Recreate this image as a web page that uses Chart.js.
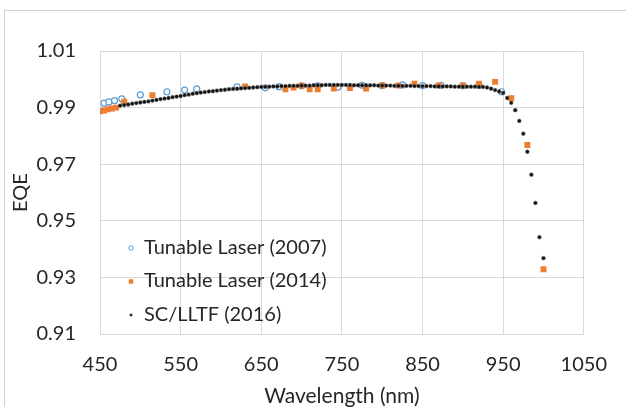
<!DOCTYPE html>
<html>
<head>
<meta charset="utf-8">
<script src="https://cdn.jsdelivr.net/npm/chart.js@4.4.0/dist/chart.umd.min.js"></script>
<style>
  html, body { margin: 0; padding: 0; background: #fff; }
  #wrap { width: 626px; height: 407px; }
</style>
</head>
<body>
<div id="wrap"><canvas id="c" width="626" height="407"></canvas></div>
<script>
// ---- Data ----
const seriesLabels = ['Tunable Laser (2007)', 'Tunable Laser (2014)', 'SC/LLTF (2016)'];

const laser2007X = [455, 461, 468, 477, 500, 533, 555, 570, 620, 655, 672, 700, 720, 745, 775, 800, 825, 850, 873, 900, 920, 948];
const laser2007Y = [0.9916, 0.9920, 0.9925, 0.9931, 0.9945, 0.9956, 0.9962, 0.9966, 0.9973, 0.9970, 0.9974, 0.9977, 0.9977, 0.9972, 0.9979, 0.9978, 0.9980, 0.9978, 0.9979, 0.9977, 0.9979, 0.9956];

const laser2014X = [450, 455, 460, 465, 470, 480, 515, 630, 680, 690, 700, 710, 720, 740, 760, 780, 800, 820, 840, 870, 900, 920, 940, 960, 980, 1000];
const laser2014Y = [0.9887, 0.9890, 0.9894, 0.9897, 0.9900, 0.9921, 0.9944, 0.9975, 0.9965, 0.9971, 0.9977, 0.9965, 0.9965, 0.9967, 0.9969, 0.9967, 0.9978, 0.9978, 0.9984, 0.9978, 0.9978, 0.9984, 0.9991, 0.9933, 0.9768, 0.9329];

const lltfX = [475, 480, 485, 490, 495, 500, 505, 510, 515, 520, 525, 530, 535, 540, 545, 550, 555, 560, 565, 570,
  575, 580, 585, 590, 595, 600, 605, 610, 615, 620, 625, 630, 635, 640, 645, 650, 655, 660, 665, 670,
  675, 680, 685, 690, 695, 700, 705, 710, 715, 720, 725, 730, 735, 740, 745, 750, 755, 760, 765, 770,
  775, 780, 785, 790, 795, 800, 805, 810, 815, 820, 825, 830, 835, 840, 845, 850, 855, 860, 865, 870,
  875, 880, 885, 890, 895, 900, 905, 910, 915, 920, 925, 930, 935, 940, 945, 950, 955, 960, 965, 970,
  975, 980, 985, 990, 995, 1000];
const lltfY = [0.9907, 0.9909, 0.9911, 0.9914, 0.9916, 0.9918, 0.9920, 0.9922, 0.9925, 0.9927, 0.9930, 0.9932, 0.9934, 0.9937, 0.9939, 0.9941, 0.9944, 0.9946, 0.9949, 0.9951,
  0.9953, 0.9955, 0.9957, 0.9958, 0.9960, 0.9962, 0.9963, 0.9965, 0.9966, 0.9967, 0.9968, 0.9969, 0.9970, 0.9971, 0.9972, 0.9973, 0.9973, 0.9974, 0.9975, 0.9975,
  0.9976, 0.9976, 0.9977, 0.9977, 0.9977, 0.9978, 0.9978, 0.9978, 0.9979, 0.9979, 0.9979, 0.9980, 0.9980, 0.9980, 0.9980, 0.9980, 0.9980, 0.9980, 0.9979, 0.9979,
  0.9979, 0.9979, 0.9979, 0.9979, 0.9978, 0.9978, 0.9978, 0.9978, 0.9977, 0.9977, 0.9977, 0.9977, 0.9977, 0.9976, 0.9976, 0.9976, 0.9976, 0.9976, 0.9975, 0.9975,
  0.9975, 0.9975, 0.9975, 0.9974, 0.9974, 0.9974, 0.9974, 0.9974, 0.9974, 0.9973, 0.9973, 0.9971, 0.9967, 0.9962, 0.9957, 0.9952, 0.9934, 0.9917, 0.9891, 0.9853,
  0.9808, 0.9744, 0.9663, 0.9563, 0.9442, 0.9368];

const xTicks = [450, 550, 650, 750, 850, 950, 1050];
const yTicks = [0.91, 0.93, 0.95, 0.97, 0.99, 1.01];

// ---- Build ----
const toPts = (xs, ys) => xs.map((x, i) => ({ x: x, y: ys[i] }));
const FONT = 'Lato, "Liberation Sans", sans-serif';
const TXT = '#262626';
const GRID = '#d9d9d9';

const datasets = [
  {
    label: seriesLabels[0], data: toPts(laser2007X, laser2007Y),
    pointStyle: 'circle', pointRadius: 3, pointBorderWidth: 1.2,
    pointBorderColor: '#5B9BD5', pointBackgroundColor: '#ffffff',
    legendRadius: 2.2, order: 3
  },
  {
    label: seriesLabels[1], data: toPts(laser2014X, laser2014Y),
    pointStyle: 'rect', pointRadius: 4.2, pointBorderWidth: 0,
    pointBorderColor: '#ED7D31', pointBackgroundColor: '#ED7D31',
    legendRadius: 3.4, order: 2
  },
  {
    label: seriesLabels[2], data: toPts(lltfX, lltfY),
    pointStyle: 'circle', pointRadius: 1.9, pointBorderWidth: 1,
    pointBorderColor: 'rgba(110,110,110,0.5)', pointBackgroundColor: '#111111',
    legendRadius: 1.3, order: 1
  }
];

const frame = {
  id: 'frame',
  beforeDraw(chart) {
    const ctx = chart.ctx;
    ctx.save();
    ctx.fillStyle = '#ffffff';
    ctx.fillRect(0, 0, chart.width, chart.height);
    ctx.strokeStyle = '#d0d0d0';
    ctx.lineWidth = 1;
    ctx.strokeRect(4.5, 10.5, chart.width + 20, chart.height + 20);
    ctx.restore();
  }
};

const insideLegend = {
  id: 'insideLegend',
  afterDraw(chart) {
    const ctx = chart.ctx;
    const area = chart.chartArea;
    const markX = area.left + 31;
    const textX = area.left + 44;
    const rows = [area.top + 197, area.top + 230, area.top + 264];
    ctx.save();
    ctx.font = '20px ' + FONT;
    ctx.textBaseline = 'middle';
    ctx.textAlign = 'left';
    chart.data.datasets.forEach((ds, i) => {
      const y = rows[i];
      ctx.beginPath();
      if (ds.pointStyle === 'rect') {
        const s = ds.legendRadius;
        ctx.fillStyle = ds.pointBackgroundColor;
        ctx.fillRect(markX - s / 2 - 0.5, y - s / 2, s + 1, s + 1);
      } else {
        ctx.arc(markX, y, ds.legendRadius, 0, Math.PI * 2);
        ctx.fillStyle = ds.pointBackgroundColor;
        ctx.fill();
        if (ds.pointBorderWidth) {
          ctx.lineWidth = 1;
          ctx.strokeStyle = ds.pointBorderColor;
          ctx.stroke();
        }
      }
      ctx.fillStyle = TXT;
      ctx.fillText(ds.label, textX, y);
    });
    ctx.restore();
  }
};

new Chart(document.getElementById('c'), {
  type: 'scatter',
  data: { datasets: datasets },
  plugins: [frame, insideLegend],
  options: {
    responsive: false,
    animation: false,
    devicePixelRatio: 1,
    layout: { padding: { left: 0, right: 25, top: 51, bottom: 0 } },
    plugins: { legend: { display: false }, tooltip: { enabled: false } },
    scales: {
      x: {
        type: 'linear', min: 450, max: 1050,
        afterBuildTicks: (s) => { s.ticks = xTicks.map(v => ({ value: v })); },
        afterFit: (s) => { s.height = 73; },
        grid: { color: GRID, lineWidth: 1, drawTicks: false },
        border: { color: GRID, width: 1 },
        ticks: { color: TXT, font: { family: FONT, size: 20 }, padding: 19, maxRotation: 0, autoSkip: false,
                 callback: (v) => String(v) },
        title: { display: true, text: 'Wavelength (nm)', color: TXT,
                 font: { family: FONT, size: 21, lineHeight: 1.05 }, padding: { top: 0, bottom: 0 } }
      },
      y: {
        type: 'linear', min: 0.91, max: 1.01,
        afterBuildTicks: (s) => { s.ticks = yTicks.map(v => ({ value: v })); },
        afterFit: (s) => { s.width = 100; },
        grid: { color: GRID, lineWidth: 1, drawTicks: false },
        border: { color: GRID, width: 1 },
        ticks: { color: TXT, font: { family: FONT, size: 20 }, padding: 24, autoSkip: false,
                 callback: (v) => Number(v).toFixed(2) },
        title: { display: true, text: 'EQE', color: TXT,
                 font: { family: FONT, size: 20, lineHeight: 1.1 }, padding: { top: 10, bottom: 0 } }
      }
    }
  }
});
</script>
</body>
</html>
